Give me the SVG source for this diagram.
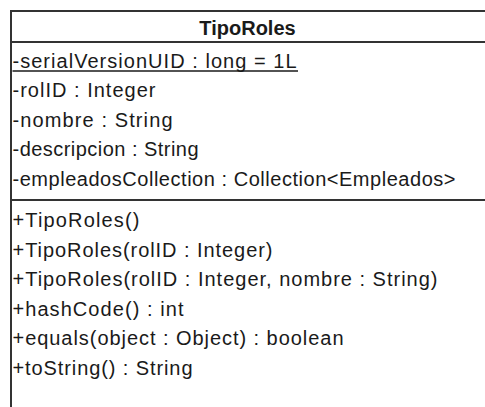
<svg xmlns="http://www.w3.org/2000/svg" width="485" height="407" viewBox="0 0 485 407">
<style>
.box{fill:#ffffff;stroke:#333333;stroke-width:2}
.sep{stroke:#333333;stroke-width:2}
.ul{stroke:#1a1a1a;stroke-width:1.3}
.t{font-family:"Liberation Sans",Arial,sans-serif;font-size:20px;fill:#1a1a1a}
.h{font-family:"Liberation Sans",Arial,sans-serif;font-size:20px;font-weight:bold;fill:#1a1a1a}
</style>
<rect width="485" height="407" fill="#ffffff"/>
<g id="TipoRoles">
<rect class="box" x="11" y="11" width="480" height="410"/>
<line class="sep" x1="11" y1="42" x2="491" y2="42"/>
<line class="sep" x1="11" y1="200" x2="491" y2="200"/>
<text class="h" x="247.5" y="35" text-anchor="middle">TipoRoles</text>
<text class="t" x="12.5" y="67.5" textLength="284" lengthAdjust="spacing">-serialVersionUID : long = 1L</text>
<line class="ul" x1="12.5" y1="71" x2="298" y2="71"/>
<text class="t" x="12.5" y="97" textLength="143" lengthAdjust="spacing">-rolID : Integer</text>
<text class="t" x="12.5" y="126.5" textLength="160" lengthAdjust="spacing">-nombre : String</text>
<text class="t" x="12.5" y="156" textLength="186" lengthAdjust="spacing">-descripcion : String</text>
<text class="t" x="12.5" y="185.5" textLength="443" lengthAdjust="spacing">-empleadosCollection : Collection&lt;Empleados&gt;</text>
<text class="t" x="12.5" y="227" textLength="127" lengthAdjust="spacing">+TipoRoles()</text>
<text class="t" x="12.5" y="256.5" textLength="260" lengthAdjust="spacing">+TipoRoles(rolID : Integer)</text>
<text class="t" x="12.5" y="286" textLength="425" lengthAdjust="spacing">+TipoRoles(rolID : Integer, nombre : String)</text>
<text class="t" x="12.5" y="315.5" textLength="171" lengthAdjust="spacing">+hashCode() : int</text>
<text class="t" x="12.5" y="345" textLength="331" lengthAdjust="spacing">+equals(object : Object) : boolean</text>
<text class="t" x="12.5" y="374.5" textLength="180" lengthAdjust="spacing">+toString() : String</text>
</g>
<g id="connectors"></g>
</svg>
